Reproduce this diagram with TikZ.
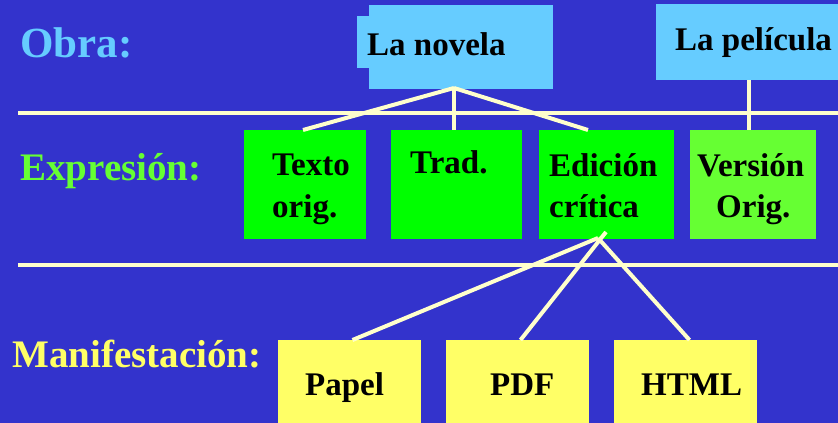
\documentclass[tikz,border=0pt]{standalone}
\usepackage{fontspec}
\setmainfont{Liberation Serif}
\usetikzlibrary{calc}
\definecolor{bg}{HTML}{3333CC}
\definecolor{obracol}{HTML}{66CCFF}
\definecolor{expcol}{HTML}{00FF00}
\definecolor{expcolb}{HTML}{66FF33}
\definecolor{mancol}{HTML}{FFFF66}
\definecolor{cream}{HTML}{FFFFCC}
\begin{document}
\begin{tikzpicture}[x=1pt,y=-1pt,
  box/.style={draw=none, inner sep=0pt, outer sep=0pt, anchor=north west},
  bt/.style={font=\fontsize{33}{36}\selectfont\bfseries, text=black, inner sep=0pt, anchor=base west},
  lab/.style={font=\fontsize{39}{42}\selectfont\bfseries, inner sep=0pt, anchor=base west},
  conn/.style={draw=cream, line width=4pt},
  rule/.style={draw=cream, line width=4pt},
]
\fill[bg] (0,0) rectangle (838,423);
\useasboundingbox (0,0) rectangle (838,423);

% Obra level
\node[box, fill=obracol, minimum width=184pt, minimum height=84pt] (nov) at (369,5) {};
\node[box, fill=obracol, minimum width=13pt, minimum height=52pt] (novtab) at (357,16) {};
\node[box, fill=obracol, minimum width=186pt, minimum height=76pt] (pel) at (656,4) {};

% Expresion level
\node[box, fill=expcol, minimum width=122pt, minimum height=109pt] (texto) at (244,130) {};
\node[box, fill=expcol, minimum width=131pt, minimum height=109pt] (trad) at (391,130) {};
\node[box, fill=expcol, minimum width=135pt, minimum height=109pt] (edi) at (539,130) {};
\node[box, fill=expcolb, minimum width=126pt, minimum height=109pt] (ver) at (690,130) {};

% Manifestacion level
\node[box, fill=mancol, minimum width=143pt, minimum height=90pt] (papel) at (278,340) {};
\node[box, fill=mancol, minimum width=143pt, minimum height=90pt] (pdf) at (446,340) {};
\node[box, fill=mancol, minimum width=143pt, minimum height=90pt] (html) at (614,340) {};

% separators
\coordinate (h1a) at (18,113);
\coordinate (h1b) at (840,113);
\coordinate (h2a) at (18,265);
\coordinate (h2b) at (840,265);
\draw[rule] (h1a) -- (h1b);
\draw[rule] (h2a) -- (h2b);

% connectors
\coordinate (novb) at (454,88);
\draw[conn] (novb) -- ($(texto.north)+(-2,0)$);
\draw[conn] (novb) -- (novb |- trad.north);
\draw[conn] (novb) -- ($(edi.north west)+(49,0)$);
\draw[conn] (pel.south) -- (pel.south |- ver.north);

\coordinate (edib) at (598,238);
\coordinate (edic) at (606,232);
\draw[conn] (edib) -- ($(papel.north)+(3,0)$);
\draw[conn] (edic) -- ($(pdf.north)+(3,0)$);
\draw[conn] (edib) -- ($(html.north)+(4,0)$);

% labels
\node[lab, text=obracol, font=\fontsize{43}{46}\selectfont\bfseries] (lobra) at (20,57) {Obra:};
\node[lab, text=expcolb] (lexp) at (20,180) {Expresión:};
\node[lab, text=mancol] (lman) at (12,367) {Manifestación:};

% box texts
\node[bt] (tnov) at (367,55) {La novela};
\node[bt] (tpel) at (675,50) {La película};
\node[bt] (ttexto1) at (272,175) {Texto};
\node[bt] (ttexto2) at (272,217) {orig.};
\node[bt] (ttrad) at (410,173) {Trad.};
\node[bt] (tedi1) at (549,176) {Edición};
\node[bt] (tedi2) at (549,217) {crítica};
\node[bt] (tver1) at (697,176) {Versión};
\node[bt] (tver2) at (716,217) {Orig.};
\node[bt] (tpapel) at (305,395) {Papel};
\node[bt] (tpdf) at (490,395) {PDF};
\node[bt] (thtml) at (641,395) {HTML};
\end{tikzpicture}
\end{document}
